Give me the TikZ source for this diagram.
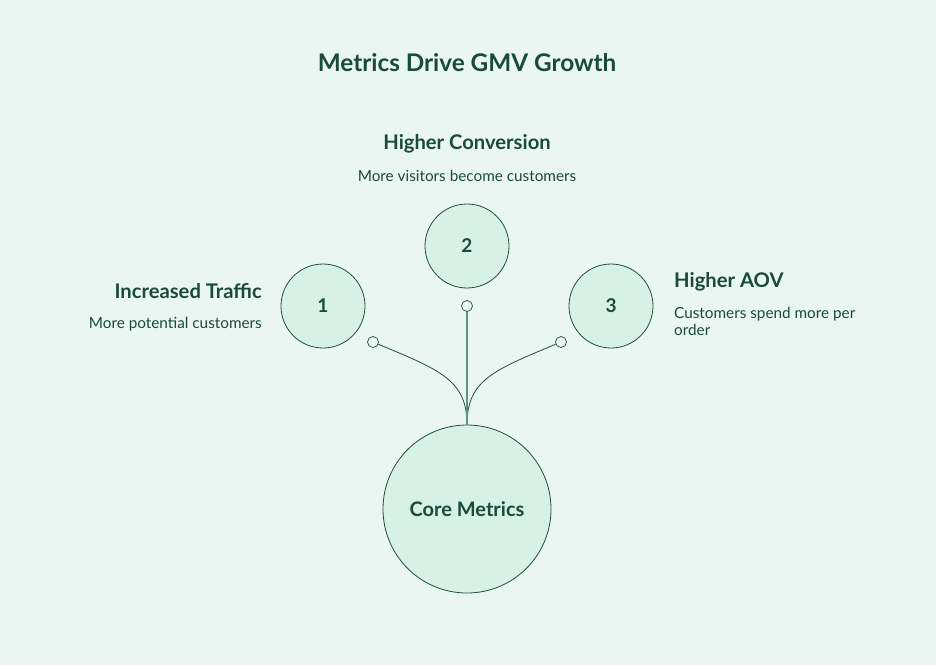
\documentclass[tikz,border=0pt]{standalone}
\usepackage{fontspec}
\setmainfont{Lato}
\begin{document}
\begin{tikzpicture}[x=1pt,y=-1pt,
  every node/.style={text=txt,inner sep=0pt},
  big/.style={circle,draw=edge,fill=cfill,line width=0.8pt},
  dot/.style={circle,draw=edge,fill=bg,line width=0.7pt,minimum size=11pt},
  head/.style={font=\fontsize{20.2}{22}\selectfont\bfseries},
  sub/.style={font=\fontsize{15.3}{17}\selectfont},
  link/.style={draw=edge,line width=0.8pt}]
\definecolor{bg}{HTML}{EAF6F1}
\definecolor{cfill}{HTML}{D8F1E6}
\definecolor{edge}{HTML}{1E4D3C}
\definecolor{txt}{HTML}{1A4A3A}
\definecolor{mid}{HTML}{5E9483}
\fill[bg] (0,0) rectangle (936,665);
\useasboundingbox (0,0) rectangle (936,665);
\node[font=\fontsize{24.3}{26}\selectfont\bfseries] (title) at (467,63) {Metrics Drive GMV Growth};
\node[big,minimum size=84pt] (c1) at (323,306) {\fontsize{19}{22}\selectfont\bfseries 1};
\node[big,minimum size=84pt] (c2) at (467,246) {\fontsize{19}{22}\selectfont\bfseries 2};
\node[big,minimum size=84pt] (c3) at (611,306) {\fontsize{19}{22}\selectfont\bfseries 3};
\node[big,minimum size=168pt] (core) at (467,509) {\fontsize{20}{22}\selectfont\bfseries Core Metrics};
\node[dot] (d1) at (373,342) {};
\node[dot] (d2) at (467,306) {};
\node[dot] (d3) at (561,342) {};
\coordinate (top) at (core.north);
\draw[link] (top) .. controls (467,380) and (440,370) .. (d1);
\draw[link] (top) .. controls (467,380) and (494,370) .. (d3);
\draw[draw=mid,line width=1.2pt] (top) -- (d2);
\node[head,anchor=east] (h1) at (262,291) {Increased Traffic};
\node[sub,anchor=east] (s1) at (262,324) {More potential customers};
\node[head] (h2) at (467,144) {Higher Conversion};
\node[sub] (s2) at (467,176) {More visitors become customers};
\node[head,anchor=west] (h3) at (674,282) {Higher AOV};
\node[sub,anchor=north west,align=left,font=\fontsize{15.3}{17.5}\selectfont] (s3) at (674,307) {Customers spend more per\\order};
\end{tikzpicture}
\end{document}
